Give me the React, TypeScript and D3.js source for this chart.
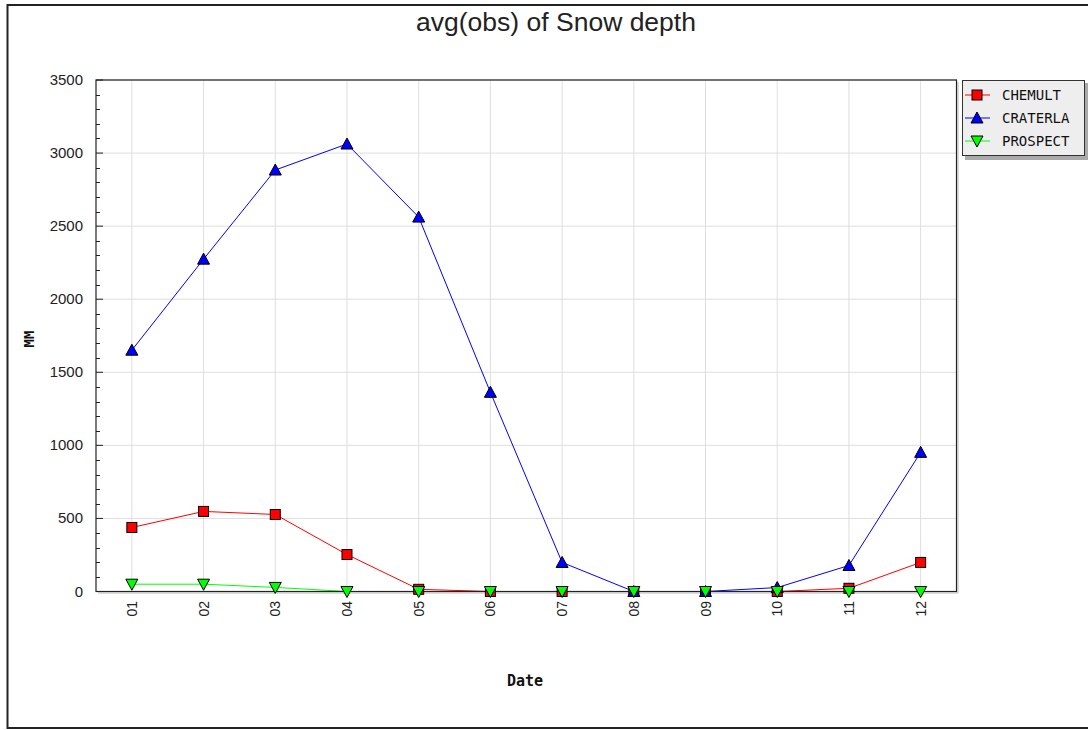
import React from "react";
import * as d3 from "d3";

const months = ["01", "02", "03", "04", "05", "06", "07", "08", "09", "10", "11", "12"];
const chemult = [438, 548, 527, 253, 15, 0, 0, 0, 0, 0, 22, 199];
const craterla = [1651, 2274, 2884, 3062, 2562, 1363, 199, 0, 0, 27, 178, 952];
const prospect = [50, 50, 28, 0, 0, 0, 0, 0, 0, 0, 0, 0];
const yTicks = [0, 500, 1000, 1500, 2000, 2500, 3000, 3500];
const seriesNames = ["CHEMULT", "CRATERLA", "PROSPECT"];
const seriesColors = ["#ff0000", "#0000ff", "#00ff00"];
const seriesShapes = ["square", "up", "down"];

const W = 1088, H = 730;
const left = 96, right = 956.5, top = 80, bottom = 591.5;

function Marker({ shape, x, y, fill }: { shape: string; x: number; y: number; fill: string }) {
  if (shape === "square") {
    return <rect x={x - 5} y={y - 5} width={10} height={10} fill={fill} stroke="#000" strokeWidth={1} />;
  }
  if (shape === "up") {
    return <path d={`M${x},${y - 6}L${x + 6},${y + 5}L${x - 6},${y + 5}Z`} fill={fill} stroke="#000" strokeWidth={1} />;
  }
  return <path d={`M${x},${y + 6}L${x + 6},${y - 5}L${x - 6},${y - 5}Z`} fill={fill} stroke="#000" strokeWidth={1} />;
}

export default function App() {
  const x = d3.scaleBand<string>().domain(months).range([left, right]).padding(0);
  const y = d3.scaleLinear().domain([0, 3500]).range([bottom, top]);
  const cx = (m: string) => (x(m) as number) + x.bandwidth() / 2;
  const data = [chemult, craterla, prospect];
  const line = d3
    .line<number>()
    .x((_, i) => cx(months[i]))
    .y((v) => y(v));
  const minor = d3.range(0, 3501, 100).filter((v) => v % 500 !== 0);

  return (
    <svg width={W} height={H} style={{ position: "absolute", left: 0, top: 0, display: "block", background: "#fff" }}>
      <rect x={7.5} y={5} width={1200} height={723} fill="#fff" stroke="#222" strokeWidth={2} />
      <text x={556} y={31} textAnchor="middle" fontFamily="Liberation Sans, Arial, sans-serif" fontSize={26.5} fill="#222">
        avg(obs) of Snow depth
      </text>
      {/* grid */}
      {yTicks.slice(1).map((t) => (
        <line key={"gy" + t} x1={left} x2={right} y1={y(t)} y2={y(t)} stroke="#dedede" strokeWidth={1} />
      ))}
      {months.map((m) => (
        <line key={"gx" + m} x1={cx(m)} x2={cx(m)} y1={top} y2={bottom} stroke="#dedede" strokeWidth={1} />
      ))}
      {/* lines */}
      {data.map((d, i) => (
        <path key={"l" + i} d={line(d) as string} fill="none" stroke={seriesColors[i]} strokeWidth={1} />
      ))}
      {/* frame shadow + frame */}
      <polyline points={`${right + 1.5},${top + 2} ${right + 1.5},${bottom + 1.5} ${left + 2},${bottom + 1.5}`} fill="none" stroke="#bbb" strokeWidth={1} />
      <rect x={left} y={top} width={right - left} height={bottom - top} fill="none" stroke="#222" strokeWidth={1.2} />
      {/* y ticks */}
      {minor.map((t) => (
        <line key={"mt" + t} x1={left} x2={left + 4} y1={Math.round(y(t)) + 0.5} y2={Math.round(y(t)) + 0.5} stroke="#222" strokeWidth={1} />
      ))}
      {yTicks.map((t) => (
        <g key={"yt" + t}>
          <line x1={left} x2={left + 7} y1={y(t)} y2={y(t)} stroke="#222" strokeWidth={1} />
          <text x={83} y={y(t) + 5} textAnchor="end" fontFamily="Liberation Sans, Arial, sans-serif" fontSize={15} fill="#222">
            {t}
          </text>
        </g>
      ))}
      {months.map((m) => (
        <text
          key={"xt" + m}
          transform={`translate(${cx(m) + 5},${601}) rotate(-90)`}
          textAnchor="end"
          fontFamily="Liberation Sans, Arial, sans-serif"
          fontSize={14}
          fill="#222"
        >
          {m}
        </text>
      ))}
      {/* markers */}
      {data.map((d, i) =>
        d.map((v, j) => <Marker key={"m" + i + "-" + j} shape={seriesShapes[i]} x={cx(months[j])} y={y(v)} fill={seriesColors[i]} />)
      )}
      {/* axis titles */}
      <text x={525} y={686} textAnchor="middle" fontFamily="DejaVu Sans Mono, monospace" fontWeight="bold" fontSize={15} fill="#111">
        Date
      </text>
      <text transform={`translate(34,339) rotate(-90)`} textAnchor="middle" fontFamily="DejaVu Sans Mono, monospace" fontWeight="bold" fontSize={14} fill="#111">
        MM
      </text>
      {/* legend */}
      <rect x={965} y={83} width={123} height={77} fill="#aaa" />
      <rect x={962.5} y={80.5} width={122} height={75} fill="#eeeeee" stroke="#333" strokeWidth={1} />
      {seriesNames.map((n, i) => {
        const ly = 95 + i * 23;
        return (
          <g key={"lg" + n}>
            <line x1={965} x2={990} y1={ly} y2={ly} stroke={seriesColors[i]} strokeWidth={1} />
            <Marker shape={seriesShapes[i]} x={977} y={ly} fill={seriesColors[i]} />
            <text x={1002} y={ly + 5} fontFamily="DejaVu Sans Mono, monospace" fontSize={14} fill="#111">
              {n}
            </text>
          </g>
        );
      })}
    </svg>
  );
}
